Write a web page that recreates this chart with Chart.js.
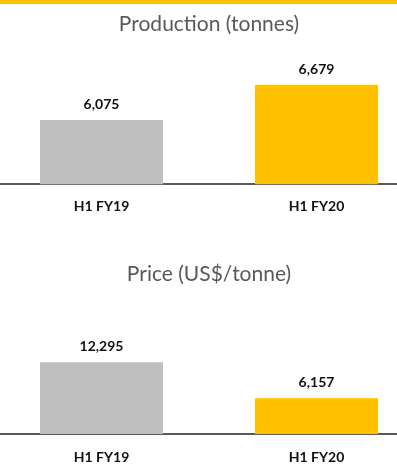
<!DOCTYPE html>
<html>
<head>
<meta charset="utf-8">
<script src="https://cdn.jsdelivr.net/npm/chart.js@4/dist/chart.umd.min.js"></script>
<style>
  html, body { margin: 0; padding: 0; background: #ffffff; overflow: hidden; width: 397px; height: 473px; }
  #topBand { position: absolute; left: 0; top: 0; width: 397px; height: 4px; background: #FFC000; z-index: 5; }
  .wrap { position: absolute; left: -6px; }
  #w1 { top: 0px; }
  #w2 { top: 230px; }
</style>
</head>
<body>
<div id="topBand"></div>
<div class="wrap" id="w1"><canvas id="c1" width="430" height="235"></canvas></div>
<div class="wrap" id="w2"><canvas id="c2" width="430" height="260"></canvas></div>
<script>
const categories = ['H1 FY19', 'H1 FY20'];
const productionTonnes = [6075, 6679];
const priceUsdPerTonne = [12295, 6157];
const barColors = ['#BFBFBF', '#FFC000'];

const valueLabels = {
  id: 'valueLabels',
  afterDatasetsDraw(chart) {
    const ctx = chart.ctx;
    const meta = chart.getDatasetMeta(0);
    const data = chart.data.datasets[0].data;
    ctx.save();
    ctx.font = 'bold 14px Lato';
    ctx.fillStyle = '#111111';
    ctx.textAlign = 'center';
    ctx.textBaseline = 'middle';
    meta.data.forEach((bar, i) => {
      ctx.fillText(data[i].toLocaleString('en-US'), bar.x, bar.y - 16);
    });
    ctx.restore();
  }
};

function makeChart(id, title, values, yMin, yMax, titlePad, tickPad, bottomPad) {
  return new Chart(document.getElementById(id), {
    type: 'bar',
    data: {
      labels: categories,
      datasets: [{
        data: values,
        backgroundColor: barColors,
        borderWidth: 0,
        barPercentage: 0.572,
        categoryPercentage: 1
      }]
    },
    options: {
      responsive: false,
      animation: false,
      devicePixelRatio: 1,
      layout: { padding: { left: 0, right: 0, top: 0, bottom: bottomPad } },
      plugins: {
        legend: { display: false },
        tooltip: { enabled: false },
        title: {
          display: true,
          text: title,
          color: '#595959',
          font: { family: 'Lato', size: 21, weight: 'normal', lineHeight: 1.2 },
          padding: titlePad
        }
      },
      scales: {
        x: {
          grid: { display: false, drawTicks: false },
          border: { display: true, color: '#595959', width: 2 },
          ticks: {
            color: '#111111',
            padding: tickPad,
            font: { family: 'Lato', size: 14, weight: 'bold', lineHeight: 1.2 }
          }
        },
        y: {
          display: false,
          min: yMin,
          max: yMax
        }
      }
    },
    plugins: [valueLabels]
  });
}

makeChart('c1', 'Production (tonnes)', productionTonnes, 4970, 7110,
  { top: 11.8, bottom: 23 }, 14, 6);
makeChart('c2', 'Price (US$/tonne)', priceUsdPerTonne, 0, 21200,
  { top: 31.8, bottom: 23 }, 15, 9);
</script>
</body>
</html>
